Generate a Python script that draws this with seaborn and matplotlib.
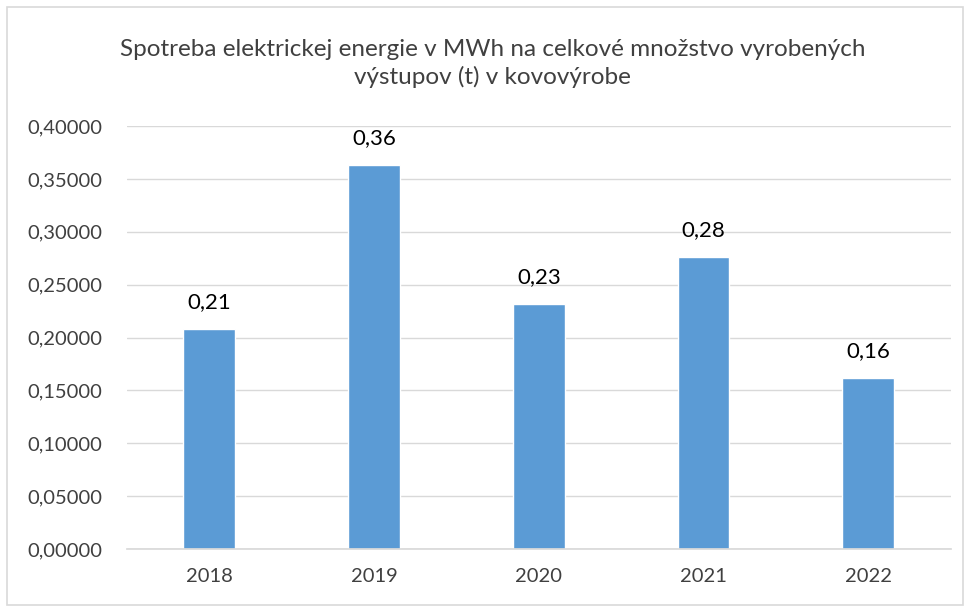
import matplotlib
matplotlib.use("Agg")
import matplotlib.pyplot as plt
from matplotlib.patches import Rectangle
from matplotlib.ticker import FuncFormatter
import seaborn as sns
import pandas as pd

#   Data
years = ["2018", "2019", "2020", "2021", "2022"]
values = [0.208, 0.363, 0.232, 0.276, 0.162]
labels = ["0,21", "0,36", "0,23", "0,28", "0,16"]

df = pd.DataFrame({"Rok": years, "Hodnota": values})

sns.set_theme(style="whitegrid")
plt.rcParams["font.family"] = ["Lato", "DejaVu Sans"]

fig = plt.figure(figsize=(9.7, 6.12), dpi=100)
ax = fig.add_axes([0.131, 0.103, 0.849, 0.691])

sns.barplot(x="Rok", y="Hodnota", data=df, color="#5B9BD5", width=0.315,
            saturation=1, ax=ax)

#   Value labels above bars
for i, (v, lab) in enumerate(zip(values, labels)):
    ax.text(i, v + 0.016, lab, ha="center", va="bottom", fontsize=16, color="#000000")

ax.set_xlim(-0.5, len(years) - 0.5)
ax.set_ylim(0, 0.40)
ax.set_yticks([i * 0.05 for i in range(9)])
ax.yaxis.set_major_formatter(FuncFormatter(lambda y, _: f"{y:.5f}".replace(".", ",")))
ax.set_xlabel("")
ax.set_ylabel("")
ax.tick_params(axis="y", labelsize=14.5, colors="#404040", length=0, pad=18)
ax.tick_params(axis="x", labelsize=14.5, colors="#404040", length=0, pad=14)
ax.grid(axis="y", color="#D9D9D9", linewidth=1)
ax.grid(axis="x", visible=False)
for s in ["top", "right", "left"]:
    ax.spines[s].set_visible(False)
ax.spines["bottom"].set_color("#D9D9D9")
ax.set_axisbelow(True)

fig.text(0.508, 0.896, "Spotreba elektrickej energie v MWh na celkové množstvo vyrobených\nvýstupov (t) v kovovýrobe",
         ha="center", va="center", fontsize=17.5, color="#404040", linespacing=1.3)

#   Outer border like the source chart
fig.patches.append(Rectangle((0.007, 0.011), 0.986, 0.978, transform=fig.transFigure,
                             fill=False, edgecolor="#D9D9D9", linewidth=1.2))

fig.savefig("out.png", dpi=100)
